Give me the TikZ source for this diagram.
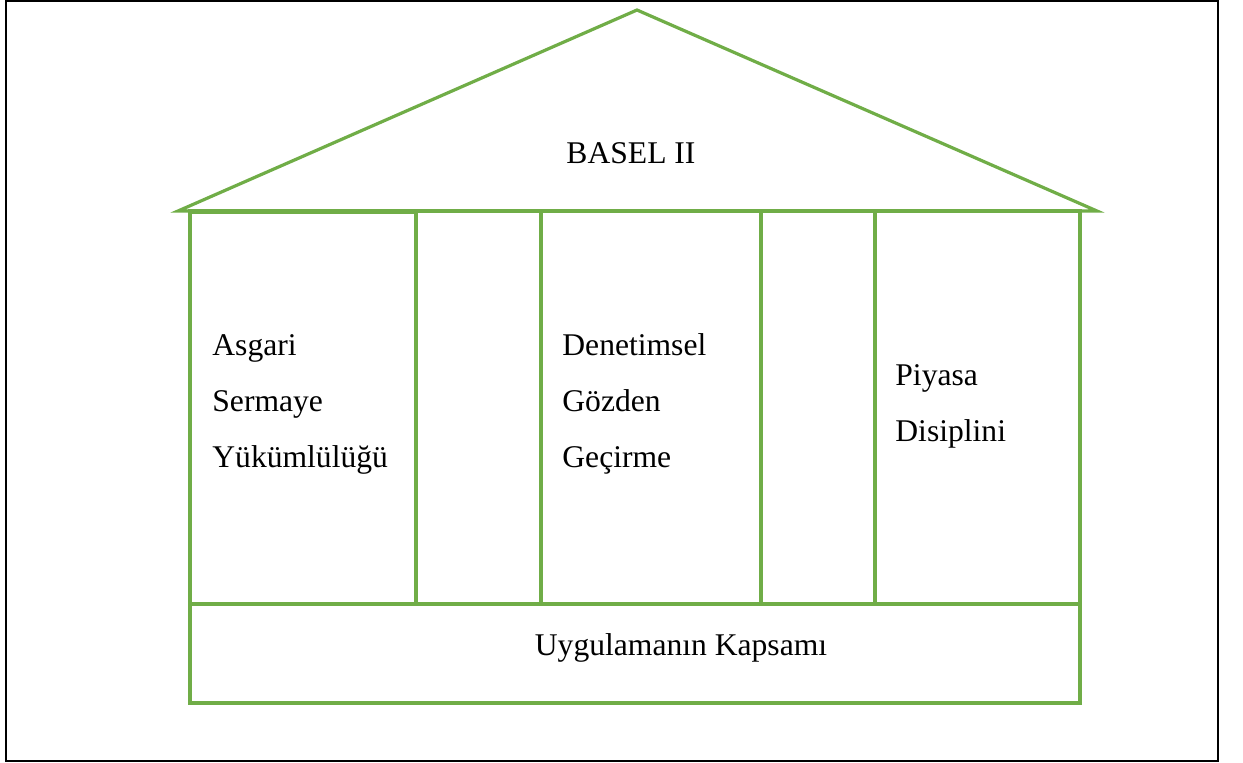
\documentclass[tikz,border=0pt]{standalone}
\usepackage{fontspec}
\setmainfont{Liberation Serif}
\definecolor{pillargreen}{HTML}{70AD47}
\begin{document}
\begin{tikzpicture}[x=0.5pt,y=-0.5pt,
  wall/.style={draw=pillargreen,line width=1.6pt},
  label/.style={inner sep=0pt,align=left,font=\fontsize{15.8}{28}\selectfont}]
\useasboundingbox (0,0) rectangle (1243,762);
\draw[line width=1.3pt] (6,1) rectangle (1218,761);
% roof
\draw[wall,line join=miter] (178,211)--(637,10)--(1097,211)--cycle;
% pillars
\draw[wall] (190,211) rectangle (1080,604);
\draw[wall,line width=2.1pt] (190,212) rectangle (416,604);
\draw[wall] (541,211)--(541,604);
\draw[wall] (761,211)--(761,604);
\draw[wall] (875,211)--(875,604);
% base
\draw[wall] (190,604) rectangle (1080,703);
\node[label,anchor=base] (basel) at (631,163) {BASEL II};
\node[label,anchor=base west] (asgari) at (212,467) {Asgari\\Sermaye\\Yükümlülüğü};
\node[label,anchor=base west] (denetim) at (562,467) {Denetimsel\\Gözden\\Geçirme};
\node[label,anchor=base west] (piyasa) at (895,441) {Piyasa\\Disiplini};
\node[label,anchor=base] (kapsam) at (681,655) {Uygulamanın Kapsamı};
\end{tikzpicture}
\end{document}
